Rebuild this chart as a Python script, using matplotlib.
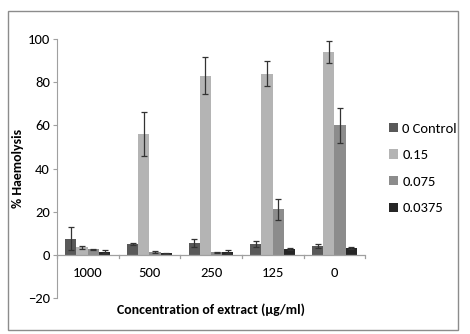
import matplotlib.pyplot as plt
import numpy as np

categories = ["1000", "500", "250", "125", "0"]
series = ["0 Control", "0.15", "0.075", "0.0375"]
control = [7.5, 5.0, 5.5, 5.0, 4.0]
control_err = [5.5, 0.6, 1.8, 1.5, 1.0]
c015 = [3.5, 56, 83, 84, 94]
c015_err = [0.7, 10, 8.5, 5.7, 5.0]
c0075 = [2.5, 1.2, 1.2, 21, 60]
c0075_err = [0.4, 0.5, 0.3, 5, 8]
c00375 = [1.5, 0.7, 1.5, 2.8, 3.1]
c00375_err = [0.8, 0.3, 0.5, 0.5, 0.5]

values = [control, c015, c0075, c00375]
errors = [control_err, c015_err, c0075_err, c00375_err]
colors = ["#595959", "#b4b4b4", "#8c8c8c", "#262626"]

plt.rcParams['font.family'] = ['Carlito', 'Liberation Sans', 'DejaVu Sans']

fig = plt.figure(figsize=(4.7, 3.34), dpi=100)
ax = fig.add_axes([0.121, 0.108, 0.656, 0.775])

# outer chart frame
fig.patches.append(plt.Rectangle((8 / 470, 1 - 330 / 334), 450 / 470, 319 / 334,
                                 transform=fig.transFigure, fill=False,
                                 edgecolor="#8c8c8c", linewidth=1))

x = np.arange(len(categories))
w = 1 / 5.5
for i in range(4):
    ax.bar(x + (i - 1.5) * w, values[i], w, color=colors[i], label=series[i],
           yerr=errors[i], error_kw=dict(ecolor="#333333", elinewidth=0.9, capsize=2.5, capthick=0.9))

ax.set_xlim(-0.5, 4.5)
ax.set_ylim(-20, 100)
ax.set_yticks(range(-20, 101, 20))
ax.set_xticks([])
ax.tick_params(axis='y', length=3, color="#a0a0a0", labelsize=10.5, pad=2)

# category labels sit just under the zero line, as in Excel
for xi, c in zip(x, categories):
    ax.text(xi, -8.3, c, ha="center", va="center", fontsize=10.5)

# x axis line at 0 with separators
ax.axhline(0, color="#a0a0a0", linewidth=0.9)
for b in np.arange(-0.5, 4.6, 1):
    ax.plot([b, b], [0, -1.6], color="#a0a0a0", linewidth=0.9, clip_on=False)

for s in ["top", "right", "bottom"]:
    ax.spines[s].set_visible(False)
ax.spines["left"].set_color("#a0a0a0")

ax.set_xlabel("Concentration of extract (µg/ml)", fontweight="bold", fontsize=10, labelpad=4)
ax.set_ylabel("% Haemolysis", fontweight="bold", fontsize=10, labelpad=2.5)

ax.legend(loc="center left", bbox_to_anchor=(1.035, 0.50), frameon=False, fontsize=10.5,
          handlelength=0.6, handleheight=0.6, handletextpad=0.3, labelspacing=1.0)

fig.savefig("out.png", dpi=100)
